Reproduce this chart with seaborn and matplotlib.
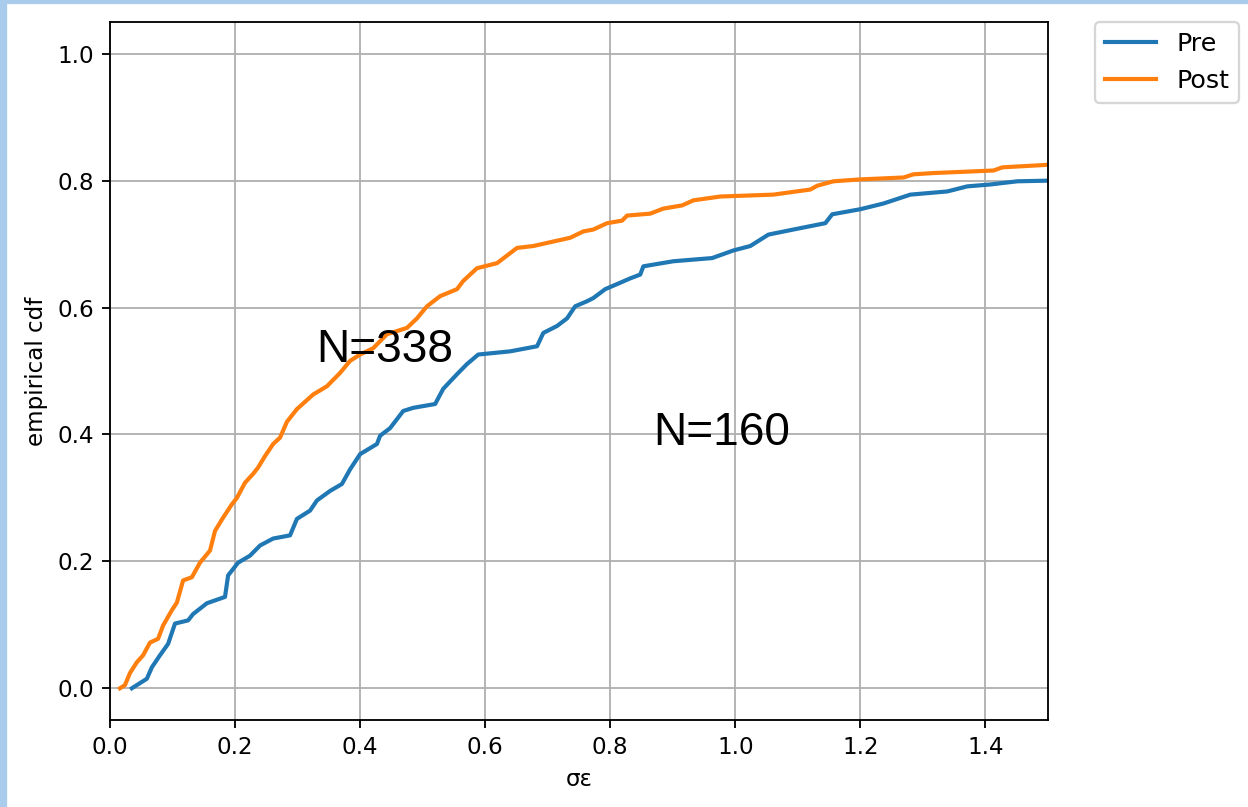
from matplotlib import pyplot as plt
from matplotlib.patches import Rectangle
import pandas as pd
import seaborn as sns

# values (sigma_epsilon vs. empirical cdf)
pre_x = [0.035, 0.059, 0.067, 0.080, 0.093, 0.104, 0.125, 0.133, 0.155, 0.184,
         0.189, 0.205, 0.224, 0.240, 0.261, 0.288, 0.299, 0.320, 0.331, 0.352,
         0.371, 0.384, 0.400, 0.427, 0.432, 0.448, 0.469, 0.485, 0.520, 0.533,
         0.555, 0.571, 0.589, 0.640, 0.683, 0.693, 0.715, 0.731, 0.744, 0.763,
         0.773, 0.792, 0.811, 0.832, 0.848, 0.853, 0.901, 0.963, 0.997, 1.024,
         1.053, 1.093, 1.144, 1.155, 1.200, 1.237, 1.280, 1.339, 1.371, 1.408,
         1.451, 1.500]
pre_cdf = [0.000, 0.015, 0.033, 0.052, 0.070, 0.102, 0.107, 0.117, 0.134, 0.144,
           0.178, 0.198, 0.209, 0.225, 0.236, 0.241, 0.267, 0.280, 0.296, 0.311,
           0.322, 0.345, 0.369, 0.385, 0.398, 0.410, 0.437, 0.442, 0.448, 0.472,
           0.495, 0.511, 0.526, 0.531, 0.539, 0.560, 0.571, 0.583, 0.602, 0.610,
           0.615, 0.629, 0.637, 0.646, 0.652, 0.665, 0.673, 0.678, 0.690, 0.697,
           0.715, 0.723, 0.733, 0.747, 0.755, 0.764, 0.778, 0.783, 0.791, 0.794,
           0.799, 0.800]

post_x = [0.016, 0.024, 0.032, 0.043, 0.053, 0.064, 0.077, 0.085, 0.099, 0.107,
          0.117, 0.131, 0.144, 0.160, 0.168, 0.181, 0.195, 0.203, 0.216, 0.229,
          0.237, 0.248, 0.261, 0.272, 0.283, 0.299, 0.325, 0.347, 0.368, 0.384,
          0.400, 0.421, 0.443, 0.475, 0.491, 0.507, 0.528, 0.555, 0.565, 0.587,
          0.619, 0.651, 0.677, 0.736, 0.757, 0.773, 0.784, 0.795, 0.819, 0.827,
          0.864, 0.885, 0.915, 0.933, 0.976, 1.061, 1.083, 1.120, 1.131, 1.157,
          1.200, 1.269, 1.285, 1.317, 1.413, 1.427, 1.500]
post_cdf = [0.000, 0.005, 0.024, 0.041, 0.052, 0.072, 0.078, 0.099, 0.123, 0.135,
            0.170, 0.175, 0.198, 0.217, 0.248, 0.269, 0.290, 0.300, 0.324, 0.338,
            0.348, 0.366, 0.385, 0.395, 0.420, 0.440, 0.463, 0.476, 0.497, 0.516,
            0.526, 0.536, 0.558, 0.568, 0.583, 0.602, 0.618, 0.629, 0.642, 0.662,
            0.670, 0.694, 0.697, 0.710, 0.720, 0.723, 0.728, 0.733, 0.737, 0.745,
            0.748, 0.756, 0.761, 0.769, 0.775, 0.778, 0.781, 0.786, 0.792, 0.799,
            0.802, 0.805, 0.810, 0.812, 0.816, 0.821, 0.825]

groups = ['Pre', 'Post']

df = pd.concat([
    pd.DataFrame({'x': pre_x, 'cdf': pre_cdf, 'group': 'Pre'}),
    pd.DataFrame({'x': post_x, 'cdf': post_cdf, 'group': 'Post'}),
])

dpi = 166
fig = plt.figure(figsize=(1248 / dpi, 807 / dpi), dpi=dpi)
ax = fig.add_axes([0.0881, 0.1078, 0.7516, 0.8649])

sns.lineplot(data=df, x='x', y='cdf', hue='group', hue_order=groups,
             palette=['tab:blue', 'tab:orange'], estimator=None, sort=True,
             linewidth=1.8, ax=ax)

ax.set_xlim(0, 1.5)
ax.set_ylim(-0.05, 1.05)
ax.grid(True)
ax.set_xlabel('σε')
ax.set_ylabel('empirical cdf')

handles, labels = ax.get_legend_handles_labels()
ax.legend(handles, labels, bbox_to_anchor=(1.05, 1), loc='upper left',
          borderaxespad=0, fontsize=11)

ax.text(0.33, 0.515, 'N=338', fontsize=20, family='Liberation Sans')
ax.text(0.869, 0.383, 'N=160', fontsize=20, family='Liberation Sans')

# light blue screenshot frame on the top and left edges
fig.patches.append(Rectangle((0, 1 - 3 / 807), 1, 3 / 807, transform=fig.transFigure,
                             color='#a9cbec', zorder=10))
fig.patches.append(Rectangle((0, 0), 6 / 1248, 1, transform=fig.transFigure,
                             color='#a9cbec', zorder=10))

fig.savefig('out.png', dpi=dpi)
